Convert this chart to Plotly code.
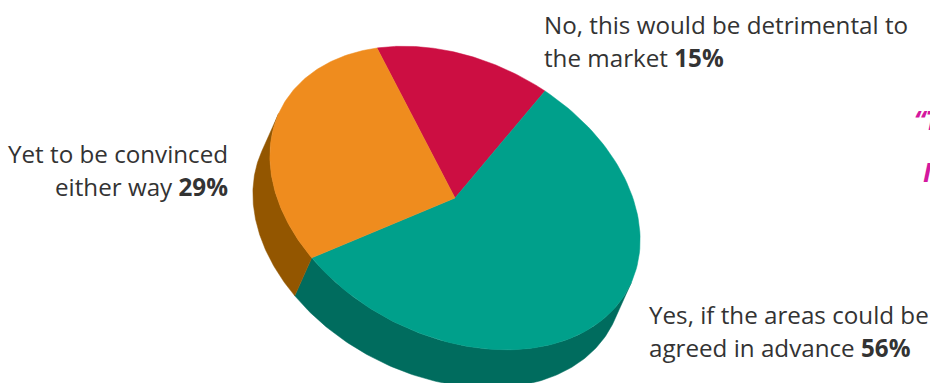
import numpy as np
import plotly.graph_objects as go

# Survey answers, in clockwise order starting from the top of the pie
labels = ["No, this would be detrimental to the market",
          "Yes, if the areas could be agreed in advance",
          "Yet to be convinced either way"]
shares = [15, 56, 29]
top_colors = ["#CC0E42", "#00A08B", "#EF8C1E"]
side_colors = ["#8A0A2C", "#006C5E", "#935600"]

# Label lines: (line text, bold value or "")
label_lines = [
    [("No, this would be detrimental to", ""), ("the market ", "15%")],
    [("Yes, if the areas could be", ""), ("agreed in advance ", "56%")],
    [("Yet to be convinced", ""), ("either way ", "29%")],
]

# Tilted-disc projection: screen = centre + U*cos(t) + V*sin(t) (+ DEPTH for the base)
CX, CY = 455.0, 198.0
U = np.array([-78.0, -150.0])
V = np.array([167.9, -23.3])
DEPTH = np.array([-17.0, 38.0])


def rim(t0, t1, n=120):
    t = np.linspace(t0, t1, n)
    x = CX + U[0] * np.cos(t) + V[0] * np.sin(t)
    y = CY + U[1] * np.cos(t) + V[1] * np.sin(t)
    return x, y


fig = go.Figure()

# Angular extent of each slice
fracs = np.array(shares, dtype=float) / sum(shares)
bounds = np.concatenate([[0.0], np.cumsum(fracs)]) * 2 * np.pi

# Side wall is visible between the two silhouette angles
cu = U[0] * DEPTH[1] - U[1] * DEPTH[0]
cv = V[0] * DEPTH[1] - V[1] * DEPTH[0]
t_sil = np.arctan2(cv, cu)  # tangent parallel to DEPTH
if t_sil < 0:
    t_sil += np.pi
vis0, vis1 = t_sil, t_sil + np.pi

for i in range(len(shares)):
    a0, a1 = bounds[i], bounds[i + 1]
    # Intersect slice span with visible front arc (also try shifted by 2*pi)
    for off in (0.0, 2 * np.pi, -2 * np.pi):
        s0, s1 = max(a0 + off, vis0), min(a1 + off, vis1)
        if s1 > s0:
            xt, yt = rim(s0, s1)
            xb, yb = xt + DEPTH[0], yt + DEPTH[1]
            fig.add_trace(go.Scatter(
                x=np.concatenate([xt, xb[::-1], xt[:1]]),
                y=np.concatenate([yt, yb[::-1], yt[:1]]),
                fill="toself", fillcolor=side_colors[i], mode="lines",
                line=dict(color=side_colors[i], width=0.5),
                hoverinfo="skip", showlegend=False))

# Top face of each slice
for i in range(len(shares)):
    xa, ya = rim(bounds[i], bounds[i + 1])
    fig.add_trace(go.Scatter(
        x=np.concatenate([[CX], xa, [CX]]),
        y=np.concatenate([[CY], ya, [CY]]),
        fill="toself", fillcolor=top_colors[i], mode="lines",
        line=dict(color=top_colors[i], width=0.5),
        name=labels[i], hoverinfo="name", showlegend=False))

# Text labels
FONT = "Open Sans"
TXT = "#333333"
anchors = [
    dict(x=542, ys=[24, 57], align="left", xanchor="left"),
    dict(x=647, ys=[314, 347], align="left", xanchor="left"),
    dict(x=230, ys=[153, 186], align="right", xanchor="right"),
]
annotations = []
for lines, pos in zip(label_lines, anchors):
    for (txt, val), yy in zip(lines, pos["ys"]):
        t = txt + (f"<b>{val}</b>" if val else "")
        annotations.append(dict(
            x=pos["x"], y=yy, xref="x", yref="y", text=t, showarrow=False,
            xanchor=pos["xanchor"], yanchor="middle", align=pos["align"],
            font=dict(family=FONT, size=24.2, color=TXT)))

# Pull-quote running off the right edge
PINK = "#D4189E"
annotations.append(dict(x=912, y=120, xref="x", yref="y", text="<i><b>“T</b></i>",
                        showarrow=False, xanchor="left", yanchor="middle",
                        font=dict(family=FONT, size=26, color=PINK)))
annotations.append(dict(x=921, y=172, xref="x", yref="y", text="<i><b>I</b></i>",
                        showarrow=False, xanchor="left", yanchor="middle",
                        font=dict(family=FONT, size=26, color=PINK)))

fig.update_layout(
    width=930, height=383,
    margin=dict(l=0, r=0, t=0, b=0),
    paper_bgcolor="white", plot_bgcolor="white",
    xaxis=dict(range=[0, 930], visible=False, fixedrange=True),
    yaxis=dict(range=[383, 0], visible=False, fixedrange=True),
    annotations=annotations,
    showlegend=False,
)

fig.write_html("out.html")
